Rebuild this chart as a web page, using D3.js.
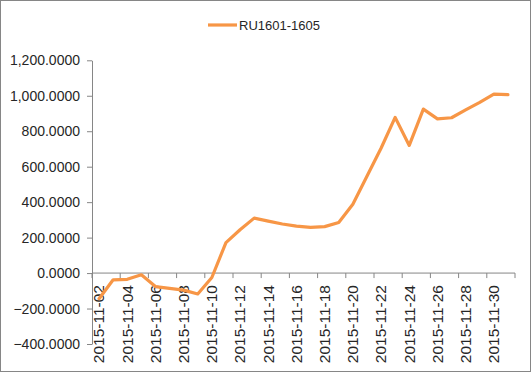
<!DOCTYPE html>
<html>
<head>
<meta charset="utf-8">
<script src="https://cdn.jsdelivr.net/npm/d3@7"></script>
<style>
  body { margin: 0; background: #fff; }
  #chart text { font-family: "Liberation Sans", Arial, sans-serif; fill: #262626; }
  .axis path, .axis line { stroke: #868686; }
</style>
</head>
<body>
<div id="chart"></div>
<script>
// categories (one per calendar day)
const dates = [
    "2015-11-02", "2015-11-03", "2015-11-04", "2015-11-05", "2015-11-06",
    "2015-11-07", "2015-11-08", "2015-11-09", "2015-11-10", "2015-11-11",
    "2015-11-12", "2015-11-13", "2015-11-14", "2015-11-15", "2015-11-16",
    "2015-11-17", "2015-11-18", "2015-11-19", "2015-11-20", "2015-11-21",
    "2015-11-22", "2015-11-23", "2015-11-24", "2015-11-25", "2015-11-26",
    "2015-11-27", "2015-11-28", "2015-11-29", "2015-11-30", "2015-12-01"
];

// RU1601-1605 spread
const spread = [
    -145, -38, -35, -10, -76,
    -86, -96, -118, -25, 172,
    244, 310, 293, 277, 265,
    258, 262, 285, 388, 546,
    704, 878, 720, 925, 870,
    876, 920, 963, 1009, 1006
];

const seriesName = "RU1601-1605";
const xTickLabels = dates.filter((d, i) => i % 2 === 0);
const yTicks = [-400, -200, 0, 200, 400, 600, 800, 1000, 1200];

const width = 532, height = 373;
const margin = {top: 60.3, right: 17, bottom: 29, left: 92};

let svg = d3.select("#chart").append("svg")
    .attr("width", width)
    .attr("height", height);

// outer frame
svg.append("rect")
    .attr("x", 0.5).attr("y", 0.5)
    .attr("width", 530).attr("height", 371)
    .attr("fill", "none")
    .attr("stroke", "#868686");

let xScale = d3.scaleBand()
    .domain(dates)
    .range([margin.left, width - margin.right])
    .padding(0);

let yScale = d3.scaleLinear()
    .domain([-400, 1200])
    .range([height - margin.bottom, margin.top]);

// y axis
let yAxis = d3.axisLeft(yScale)
    .tickValues(yTicks)
    .tickFormat(d3.format(",.4f"))
    .tickSize(5)
    .tickSizeOuter(0)
    .tickPadding(7);

svg.append("g")
    .attr("class", "axis")
    .attr("transform", "translate(" + margin.left + ",0)")
    .call(yAxis)
    .selectAll("text")
    .style("font-size", "14px");

// x axis sits on zero
let y0 = yScale(0);
let xAxisGroup = svg.append("g")
    .attr("class", "axis")
    .attr("transform", "translate(0," + y0 + ")");

xAxisGroup.append("line")
    .attr("x1", xScale.range()[0]).attr("x2", xScale.range()[1])
    .attr("y1", 0).attr("y2", 0);

// tick marks between categories, every 2 days
xAxisGroup.selectAll(".xtick")
    .data(xTickLabels)
    .enter().append("line")
    .attr("class", "xtick")
    .attr("x1", d => xScale(d)).attr("x2", d => xScale(d))
    .attr("y1", 0).attr("y2", 5);

xAxisGroup.append("line")
    .attr("x1", xScale.range()[1]).attr("x2", xScale.range()[1])
    .attr("y1", 0).attr("y2", 5);

xAxisGroup.selectAll(".xlabel")
    .data(xTickLabels)
    .enter().append("text")
    .attr("class", "xlabel")
    .attr("transform", d => "translate(" + (xScale(d) + xScale.bandwidth() / 2) + ",0) rotate(-90)")
    .attr("x", -12)
    .attr("dy", "0.35em")
    .style("text-anchor", "end")
    .style("font-size", "15.5px")
    .text(d => d);

// line
let points = dates.map((d, i) => ({date: d, value: spread[i]}));

let line = d3.line()
    .x(d => xScale(d.date) + xScale.bandwidth() / 2)
    .y(d => yScale(d.value));

svg.append("path")
    .datum(points)
    .attr("d", line)
    .attr("fill", "none")
    .attr("stroke", "#F79646")
    .attr("stroke-width", 3.2)
    .attr("stroke-linejoin", "round")
    .attr("stroke-linecap", "round");

// legend
let legend = svg.append("g")
    .attr("transform", "translate(208,25)");

legend.append("line")
    .attr("x1", 0).attr("x2", 29)
    .attr("y1", 0).attr("y2", 0)
    .attr("stroke", "#F79646")
    .attr("stroke-width", 3.2);

legend.append("text")
    .attr("x", 31)
    .attr("dy", "0.35em")
    .style("font-size", "13px")
    .text(seriesName);
</script>
</body>
</html>
